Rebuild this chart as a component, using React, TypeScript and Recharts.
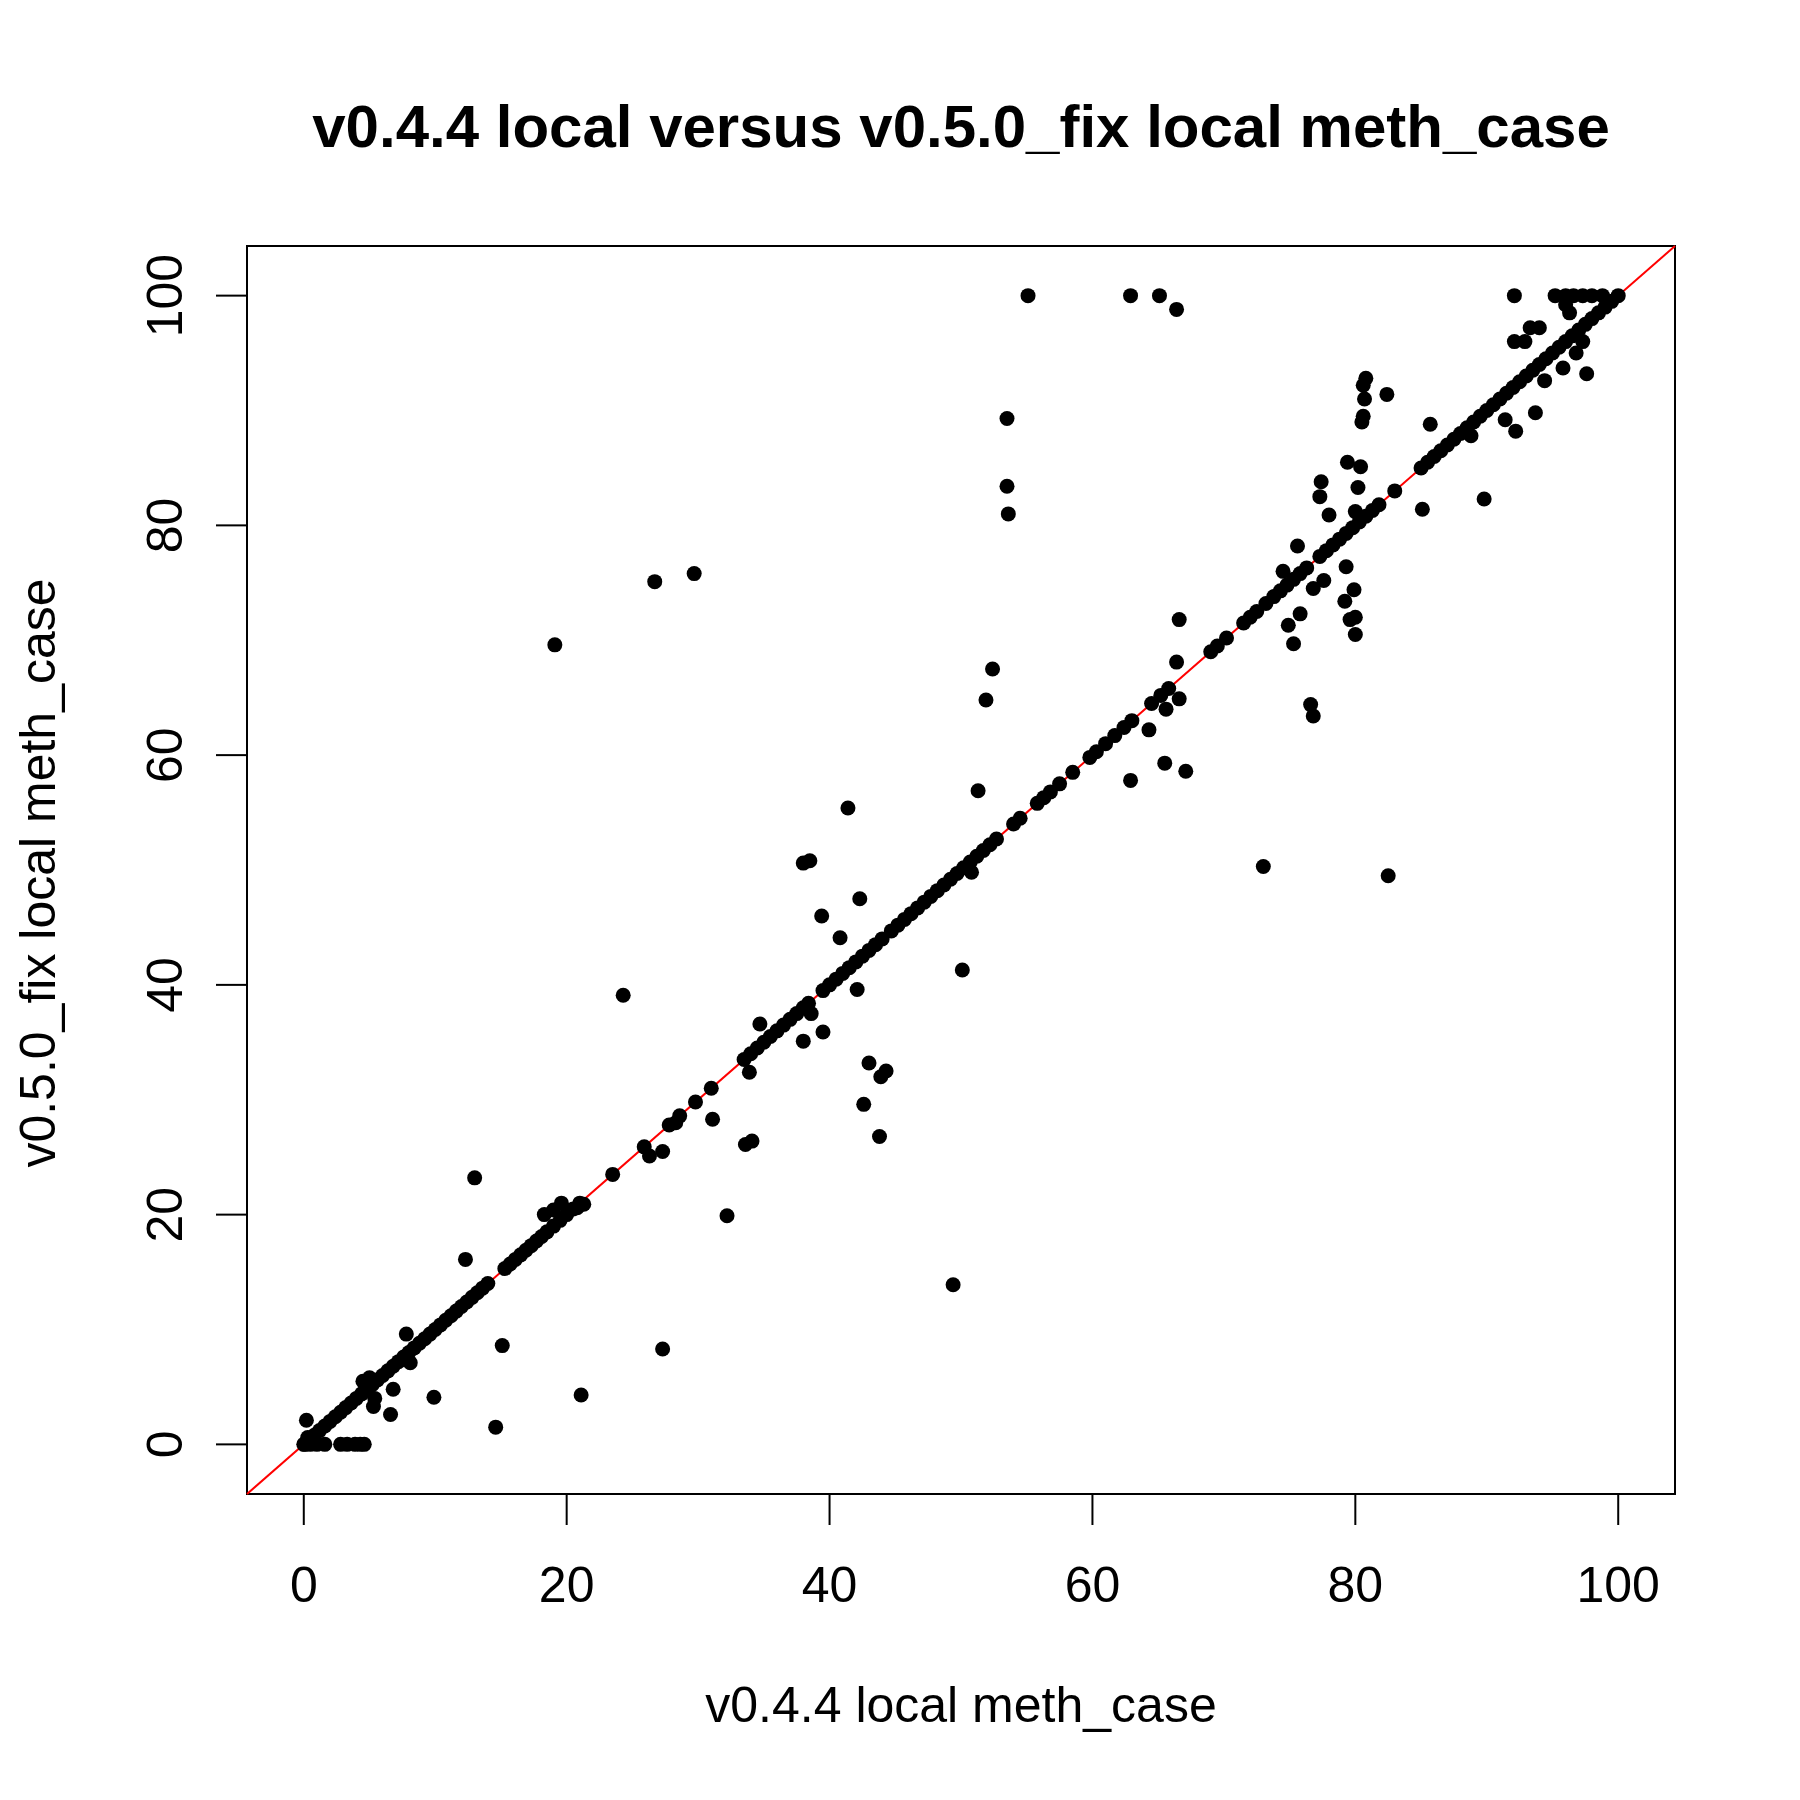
import { ScatterChart, Scatter, XAxis, YAxis, ReferenceLine, ReferenceArea } from "recharts";

const title = "v0.4.4 local versus v0.5.0_fix local meth_case";
const xLabel = "v0.4.4 local meth_case";
const yLabel = "v0.5.0_fix local meth_case";
const ticks = [0, 20, 40, 60, 80, 100];

// points that sit on the identity line (x == y)
const onLine = [
  0, 0.4, 0.8, 1.2, 1.6, 2.0, 2.4, 2.8, 3.2, 3.6, 4.0, 4.4, 4.8, 5.2, 5.6, 6.0, 6.4, 6.8, 7.2, 7.6,
  8.0, 8.4, 8.8, 9.2, 9.6, 10.0, 10.4, 10.8, 11.2, 11.6, 12.0, 12.4, 12.8, 13.2, 13.6, 14.0, 15.3,
  15.7, 16.1, 16.5, 16.9, 17.3, 17.7, 18.1, 18.5, 19.0, 19.5, 20.0, 20.5, 21.0, 23.5, 25.9, 27.8,
  28.6, 29.8, 31.0, 33.5, 34.0, 34.5, 35.0, 35.5, 36.0, 36.5, 37.0, 37.5, 38.0, 38.4, 39.5, 40.0,
  40.5, 41.0, 41.5, 42.0, 42.5, 43.0, 43.5, 44.0, 44.7, 45.2, 45.7, 46.2, 46.7, 47.2, 47.7, 48.2,
  48.7, 49.2, 49.7, 50.2, 50.7, 51.2, 51.7, 52.2, 52.7, 54.0, 54.5, 55.8, 56.3, 56.8, 57.5, 58.5,
  59.8, 60.3, 61.0, 61.7, 62.4, 63.0, 64.5, 65.2, 65.8, 69.0, 69.5, 70.2, 71.5, 72.0, 72.5, 73.2,
  73.8, 74.3, 74.8, 75.3, 75.8, 76.3, 77.3, 77.8, 78.3, 78.8, 79.3, 79.8, 80.3, 80.8, 81.3, 81.8,
  83.0, 85.0, 85.5, 86.0, 86.5, 87.0, 87.5, 88.0, 88.5, 89.0, 89.5, 90.0, 90.5, 91.0, 91.5, 92.0,
  92.5, 93.0, 93.5, 94.0, 94.5, 95.0, 95.5, 96.0, 96.5, 97.0, 97.5, 98.0, 98.5, 99.0, 99.5, 100,
];

// points off the line: [x, y]
const offLine: [number, number][] = [
  [0.2, 2.1], [0.1, 0], [0.5, 0], [1.0, 0], [1.6, 0], [2.8, 0], [3.3, 0], [3.9, 0], [4.3, 0], [4.6, 0],
  [0.3, 0.6], [5.3, 3.3], [4.5, 5.5], [5.0, 5.8], [5.4, 4.0], [18.3, 20.0], [19.0, 20.4], [19.6, 21.0],
  [20.8, 20.6], [21.3, 20.9], [26.3, 25.1], [27.3, 25.5], [28.3, 28.0],
  [19.1, 69.6], [26.7, 75.1], [29.7, 75.8], [24.3, 39.1], [13.0, 23.2], [12.3, 16.1], [15.1, 8.6],
  [14.6, 1.5], [21.1, 4.3], [27.3, 8.3], [32.2, 19.9], [49.4, 13.9], [50.1, 41.3], [9.9, 4.1],
  [6.6, 2.6], [6.8, 4.8], [7.8, 9.6], [8.1, 7.1],
  [38.0, 50.6], [38.5, 50.8], [41.4, 55.4], [39.4, 46.0], [42.3, 47.5], [40.8, 44.1], [42.1, 39.6],
  [39.5, 35.9], [38.0, 35.1], [38.6, 37.5], [43.0, 33.2], [44.3, 32.5], [43.9, 32.0], [42.6, 29.6],
  [43.8, 26.8], [33.6, 26.1], [34.1, 26.4], [31.1, 28.3], [33.9, 32.4], [34.7, 36.6],
  [51.3, 56.9], [51.9, 64.8], [52.4, 67.5], [53.5, 89.3], [53.5, 83.4], [53.6, 81.0], [55.1, 100],
  [62.9, 100], [65.1, 100], [66.4, 98.8], [62.9, 57.8], [64.3, 62.2], [65.5, 59.3], [67.1, 58.6],
  [66.6, 71.8], [66.4, 68.1], [66.6, 64.9], [65.6, 64.0], [50.8, 49.8],
  [73.0, 50.3], [82.5, 49.5], [75.3, 69.7], [74.9, 71.3], [75.8, 72.3], [76.6, 64.4], [76.8, 63.4],
  [77.3, 82.5], [77.4, 83.8], [78.0, 80.9], [79.4, 85.5], [80.4, 85.1], [80.2, 83.3], [80.0, 81.2],
  [79.3, 76.4], [79.2, 73.4], [79.6, 71.8], [80.0, 70.5], [80.0, 72.0], [79.9, 74.4], [77.6, 75.2],
  [76.8, 74.5], [75.6, 78.2], [74.5, 76.0],
  [80.5, 89.0], [80.6, 89.5], [80.7, 91.0], [80.6, 92.2], [80.8, 92.8], [82.4, 91.4], [85.1, 81.4],
  [85.7, 88.8], [89.8, 82.3], [88.8, 87.8],
  [92.1, 96.0], [92.1, 100], [92.2, 88.2], [93.7, 89.8], [97.6, 93.2], [91.4, 89.2], [93.3, 97.2],
  [94.0, 97.2], [95.2, 100], [96.0, 100], [96.6, 100], [97.3, 100], [98.0, 100], [98.8, 100],
  [96.0, 99.2], [96.3, 98.5], [94.4, 92.6], [95.8, 93.7], [92.9, 96.0], [96.8, 95.0], [97.3, 96.0],
];

const points = [
  ...onLine.map((v) => ({ x: v, y: v })),
  ...offLine.map(([x, y]) => ({ x, y })),
];

const FONT = "'Liberation Sans', Arial, sans-serif";
const DOM: [number, number] = [-4.32, 104.32];

const xTick = (p: any) => {
  const { x, payload } = p;
  const y = 1494;
  return (
    <g>
      <line x1={x} x2={x} y1={y} y2={y + 31} stroke="#000" strokeWidth={2} />
      <text x={x} y={y + 108} textAnchor="middle" fontSize={50} fontFamily={FONT} fill="#000">
        {payload.value}
      </text>
    </g>
  );
};

const yTick = (p: any) => {
  const { y, payload } = p;
  const x = 247;
  return (
    <g>
      <line x1={x} x2={x - 31} y1={y} y2={y} stroke="#000" strokeWidth={2} />
      <text
        x={x - 65}
        y={y}
        textAnchor="middle"
        fontSize={50}
        fontFamily={FONT}
        fill="#000"
        transform={`rotate(-90 ${x - 65} ${y})`}
      >
        {payload.value}
      </text>
    </g>
  );
};

const dot = (p: any) => <circle cx={p.cx} cy={p.cy} r={7.5} fill="#000" />;

export default function App() {
  return (
    <div style={{ margin: -8, width: 1800, height: 1800, background: "#fff", position: "relative" }}>
      <ScatterChart
        width={1800}
        height={1800}
        margin={{ top: 246, right: 125, bottom: 305, left: 246 }}
      >
        <XAxis
          type="number"
          dataKey="x"
          domain={DOM}
          ticks={ticks}
          height={1}
          axisLine={false}
          tickLine={false}
          tick={xTick}
          allowDataOverflow
        />
        <YAxis
          type="number"
          dataKey="y"
          domain={DOM}
          ticks={ticks}
          width={1}
          axisLine={false}
          tickLine={false}
          tick={yTick}
          allowDataOverflow
        />
        <ReferenceArea
          x1={DOM[0]}
          x2={DOM[1]}
          y1={DOM[0]}
          y2={DOM[1]}
          fill="none"
          stroke="#000"
          strokeWidth={2}
          ifOverflow="visible"
        />
        <Scatter data={points} fill="#000" shape={dot} isAnimationActive={false} />
        <ReferenceLine
          segment={[{ x: DOM[0], y: DOM[0] }, { x: DOM[1], y: DOM[1] }]}
          stroke="#ff0000"
          strokeWidth={2}
          ifOverflow="visible"
        />
      </ScatterChart>
      <div style={{ position: "absolute", top: 92, left: 247, width: 1428, textAlign: "center", fontFamily: FONT, fontWeight: "bold", fontSize: 60 }}>
        {title}
      </div>
      <div style={{ position: "absolute", top: 1676, left: 247, width: 1428, textAlign: "center", fontFamily: FONT, fontSize: 50 }}>
        {xLabel}
      </div>
      <div style={{ position: "absolute", top: 873, left: 38, width: 0, height: 0 }}>
        <div style={{ position: "absolute", transform: "translate(-50%, -50%) rotate(-90deg)", whiteSpace: "nowrap", fontFamily: FONT, fontSize: 50 }}>
          {yLabel}
        </div>
      </div>
    </div>
  );
}
